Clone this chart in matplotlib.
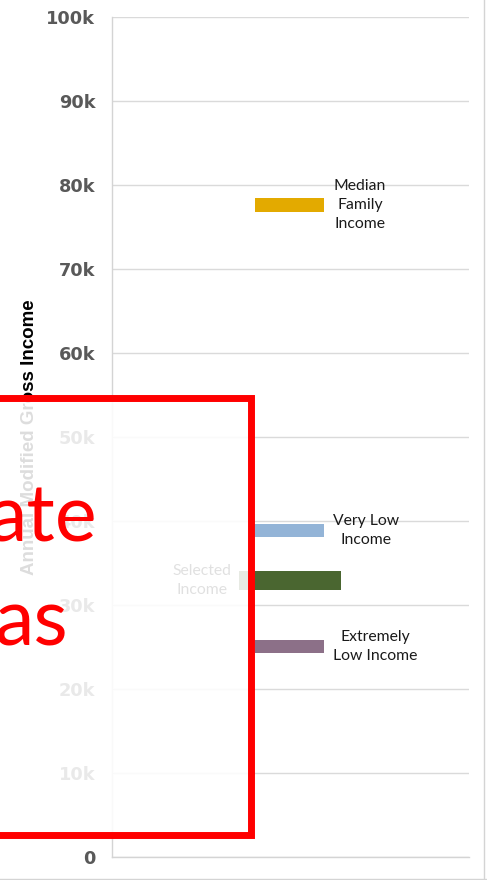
import numpy as np
import matplotlib.pyplot as plt
from matplotlib.patches import Rectangle
from matplotlib.lines import Line2D

# income levels (annual, $)
categories = ['Median\nFamily\nIncome', 'Very Low\nIncome', 'Selected\nIncome', 'Extremely\nLow Income']
values = [77650, 38850, 32950, 25050]
colors = ['#E3AA00', '#93B4D7', '#4A6630', '#8C7088']

y_ticks = np.arange(0, 100001, 10000)
y_tick_labels = ['0', '10k', '20k', '30k', '40k', '50k', '60k', '70k', '80k', '90k', '100k']

overlay_text = ['ate', 'as']

W, H = 487, 880
fig = plt.figure(figsize=(W / 100, H / 100), dpi=100)
ax = fig.add_axes([112 / W, 1 - 857 / H, (469 - 112) / W, (857 - 17) / H])

# bar geometry (axes x fraction) and thickness
left = [0.401, 0.401, 0.356, 0.401]
width = [0.193, 0.193, 0.285, 0.193]
thick = [1650, 1600, 2300, 1600]
label_x = [0.695, 0.711, 0.252, 0.737]

ax.barh(values, width, left=left, height=thick, color=colors, zorder=3)
for cat, v, lx in zip(categories, values, label_x):
    ax.text(lx, v, cat, ha='center', va='center', fontsize=11.3, family='Lato',
            color='#1a1a1a', linespacing=1.45, zorder=4)

ax.set_xlim(0, 1)
ax.set_ylim(0, 100000)
ax.set_yticks(y_ticks)
ax.set_yticklabels(y_tick_labels, fontsize=12.8, fontweight='bold',
                   color='#595959', family='DejaVu Sans')
ax.set_xticks([])
ax.tick_params(axis='y', length=0, pad=12)
ax.yaxis.grid(True, color='#DADADA', linewidth=1)
ax.set_axisbelow(True)
for s in ['top', 'right']:
    ax.spines[s].set_visible(False)
for s in ['left', 'bottom']:
    ax.spines[s].set_color('#D4D4D4')
    ax.spines[s].set_linewidth(1)
ax.set_ylabel('Annual Modified Gross Income', fontsize=13.5, fontweight='bold',
              family='Liberation Sans', color='black')
ax.yaxis.set_label_coords(-(112 - 38) / (469 - 112), 0.5)

# outer frame (right and bottom edges)
fig.add_artist(Line2D([484 / W, 484 / W], [0, 1], color='#D4D4D4', lw=1, transform=fig.transFigure))
fig.add_artist(Line2D([0, 1], [1 - 879 / H, 1 - 879 / H], color='#D4D4D4', lw=1, transform=fig.transFigure))

# translucent white box with red border on top
box = Rectangle((-20 / W, 1 - 834.5 / H), (250.5 + 20) / W, (834.5 - 398.5) / H,
                transform=fig.transFigure, facecolor=(1, 1, 1, 0.87),
                edgecolor='#FF0000', linewidth=5, zorder=10)
fig.add_artist(box)
fig.text(97 / W, 1 - 541 / H, overlay_text[0], ha='right', va='baseline',
         fontsize=57, family='Lato', color='#FF0000', zorder=11)
fig.text(68 / W, 1 - 645 / H, overlay_text[1], ha='right', va='baseline',
         fontsize=57, family='Lato', color='#FF0000', zorder=11)

fig.savefig('out.png', dpi=100)
